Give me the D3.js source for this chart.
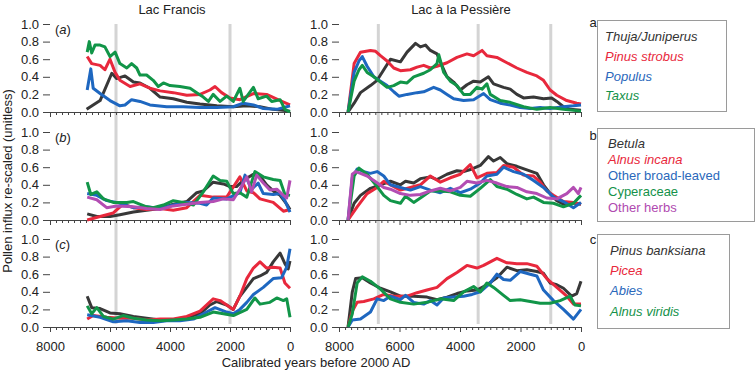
<!DOCTYPE html>
<html>
<head>
<meta charset="utf-8">
<script src="https://cdn.jsdelivr.net/npm/d3@7"></script>
<style>
body { margin: 0; background: #fff; }
svg text { font-family: "Liberation Sans", Arial, sans-serif; fill: #222; }
</style>
</head>
<body>
<svg id="chart" width="755" height="373"></svg>
<script>
// Values: [calibrated years BP (2000 AD), re-scaled influx]

// Lac Francis (a)
const francisThuja = [[6780,0.03],[6330,0.13],[5940,0.44],[5780,0.38],[5500,0.41],[5220,0.34],[5000,0.33],[4670,0.27],[4330,0.17],[3890,0.15],[3440,0.11],[3000,0.09],[2440,0.07],[1890,0.06],[1440,0.07],[1000,0.06],[560,0.03],[0,0.01]]
const francisPinusStrobus = [[6760,0.63],[6610,0.55],[6330,0.53],[6170,0.48],[6000,0.60],[5830,0.45],[5670,0.36],[5330,0.29],[5000,0.32],[4670,0.27],[4330,0.24],[3890,0.22],[3440,0.19],[3000,0.20],[2670,0.25],[2500,0.29],[2280,0.22],[2000,0.16],[1670,0.14],[1220,0.21],[780,0.20],[330,0.13],[0,0.08]]
const francisPopulus = [[6760,0.25],[6640,0.49],[6560,0.27],[6330,0.21],[6000,0.13],[5670,0.07],[5500,0.08],[5280,0.14],[5000,0.12],[4670,0.08],[4110,0.06],[3560,0.06],[3000,0.05],[2440,0.05],[1890,0.06],[1560,0.10],[1220,0.08],[890,0.04],[440,0.03],[110,0.06],[0,0.07]]
const francisTaxus = [[6760,0.68],[6690,0.80],[6610,0.67],[6500,0.76],[6330,0.76],[6170,0.74],[6000,0.63],[5830,0.68],[5670,0.55],[5440,0.50],[5280,0.55],[5110,0.50],[5000,0.42],[4780,0.42],[4560,0.36],[4390,0.29],[4220,0.33],[4000,0.30],[3670,0.29],[3330,0.27],[3110,0.22],[2890,0.17],[2720,0.12],[2560,0.20],[2330,0.12],[2110,0.18],[1890,0.12],[1670,0.27],[1560,0.12],[1220,0.28],[1060,0.15],[780,0.18],[610,0.12],[330,0.14],[170,0.03],[0,0.0]]

// Lac Francis (b)
const francisBetula = [[6760,0.07],[6440,0.04],[6000,0.04],[5670,0.06],[5220,0.09],[4780,0.11],[4330,0.13],[3890,0.18],[3440,0.21],[3110,0.31],[2890,0.33],[2560,0.43],[2220,0.41],[2000,0.38],[1780,0.38],[1560,0.45],[1220,0.52],[1000,0.50],[780,0.40],[560,0.33],[330,0.28],[110,0.18],[0,0.12]]
const francisAlnusIncana = [[6760,0.0],[6330,0.04],[5890,0.08],[5560,0.18],[5220,0.14],[4780,0.12],[4330,0.13],[3890,0.11],[3440,0.14],[3000,0.28],[2560,0.26],[2110,0.26],[1670,0.49],[1440,0.33],[1220,0.31],[1000,0.24],[560,0.20],[220,0.10],[0,0.12]]
const francisBroadLeaved = [[6760,0.30],[6440,0.28],[6110,0.22],[5780,0.20],[5220,0.14],[4780,0.15],[4330,0.13],[3890,0.17],[3440,0.20],[3000,0.19],[2780,0.17],[2560,0.25],[2110,0.24],[1670,0.31],[1500,0.51],[1280,0.35],[1060,0.42],[890,0.30],[560,0.29],[330,0.30],[170,0.22],[0,0.09]]
const francisCyperaceae = [[6760,0.43],[6640,0.29],[6440,0.32],[6220,0.24],[5890,0.20],[5440,0.20],[5220,0.21],[4780,0.15],[4560,0.14],[4220,0.17],[3890,0.22],[3560,0.20],[3220,0.17],[2890,0.32],[2560,0.50],[2330,0.45],[2110,0.44],[1890,0.30],[1670,0.31],[1440,0.26],[1170,0.55],[890,0.49],[560,0.46],[330,0.45],[170,0.29],[0,0.28]]
const francisHerbs = [[6760,0.26],[6440,0.23],[6110,0.14],[5780,0.16],[5220,0.15],[4780,0.13],[4330,0.12],[3890,0.16],[3440,0.18],[3000,0.20],[2560,0.21],[2220,0.24],[1890,0.23],[1670,0.35],[1440,0.49],[1280,0.32],[1110,0.51],[890,0.42],[670,0.34],[440,0.35],[220,0.28],[110,0.25],[0,0.45]]

// Lac Francis (c)
const francisBanksiana = [[6760,0.35],[6610,0.22],[6330,0.21],[6000,0.16],[5670,0.15],[5220,0.12],[4780,0.10],[4330,0.08],[3890,0.08],[3440,0.11],[3000,0.15],[2670,0.25],[2440,0.29],[2110,0.25],[1890,0.20],[1670,0.35],[1440,0.45],[1220,0.55],[1000,0.58],[780,0.62],[560,0.74],[330,0.84],[170,0.72],[60,0.66],[0,0.75]]
const francisPicea = [[6760,0.09],[6560,0.13],[6110,0.11],[5670,0.10],[5220,0.10],[4780,0.08],[4330,0.09],[3890,0.09],[3440,0.12],[3000,0.18],[2560,0.32],[2330,0.30],[1890,0.20],[1670,0.35],[1440,0.55],[1220,0.67],[1000,0.74],[780,0.67],[560,0.68],[330,0.67],[170,0.50],[0,0.44]]
const francisAbies = [[6760,0.14],[6330,0.11],[5890,0.06],[5440,0.07],[5000,0.05],[4560,0.05],[4110,0.07],[3670,0.07],[3220,0.09],[2780,0.17],[2500,0.22],[2110,0.17],[1890,0.15],[1670,0.20],[1440,0.28],[1220,0.37],[890,0.45],[560,0.55],[280,0.56],[110,0.68],[0,0.89]]
const francisAlnusViridis = [[6760,0.24],[6610,0.15],[6440,0.22],[6220,0.12],[5890,0.09],[5560,0.13],[5220,0.10],[4780,0.08],[4330,0.07],[3890,0.08],[3440,0.09],[3000,0.11],[2560,0.17],[2220,0.15],[1890,0.13],[1440,0.20],[1170,0.33],[1000,0.26],[670,0.28],[440,0.33],[220,0.30],[110,0.32],[0,0.11]]

// Lac a la Pessiere (a)
const pessiereThuja = [[7700,0],[7500,0.10],[7290,0.22],[6960,0.30],[6740,0.36],[6520,0.48],[6300,0.60],[5970,0.57],[5750,0.68],[5470,0.78],[5310,0.74],[5140,0.76],[4980,0.70],[4760,0.66],[4590,0.52],[4430,0.40],[4210,0.34],[3990,0.25],[3770,0.31],[3550,0.35],[3330,0.34],[3060,0.40],[2890,0.32],[2560,0.28],[2340,0.26],[2120,0.20],[1900,0.16],[1570,0.17],[1240,0.15],[970,0.16],[800,0.12],[580,0.06],[360,0.03],[0,0.02]]
const pessierePinusStrobus = [[7700,0],[7500,0.55],[7290,0.68],[6960,0.70],[6790,0.69],[6630,0.64],[6410,0.58],[6190,0.50],[5970,0.47],[5640,0.48],[5420,0.51],[5200,0.53],[4980,0.50],[4760,0.52],[4430,0.56],[4100,0.62],[3770,0.66],[3550,0.64],[3270,0.70],[3110,0.64],[2780,0.62],[2450,0.56],[2120,0.50],[1790,0.45],[1460,0.41],[1240,0.36],[1020,0.25],[800,0.19],[470,0.13],[140,0.10],[0,0.09]]
const pessierePopulus = [[7700,0],[7500,0.45],[7340,0.58],[7230,0.63],[7070,0.52],[6850,0.40],[6630,0.35],[6410,0.30],[6190,0.23],[6020,0.18],[5750,0.20],[5420,0.22],[5200,0.23],[4870,0.28],[4650,0.25],[4430,0.20],[4210,0.15],[3880,0.13],[3550,0.14],[3220,0.21],[3000,0.14],[2670,0.10],[2340,0.08],[2010,0.05],[1680,0.04],[1350,0.05],[1020,0.04],[580,0.06],[250,0.07],[0,0.08]]
const pessiereTaxus = [[7700,0],[7500,0.35],[7340,0.48],[7230,0.53],[7070,0.45],[6850,0.40],[6630,0.34],[6410,0.28],[6190,0.30],[5970,0.34],[5750,0.33],[5530,0.40],[5200,0.44],[4980,0.48],[4760,0.55],[4700,0.65],[4540,0.45],[4320,0.35],[4100,0.30],[3880,0.20],[3660,0.20],[3440,0.28],[3270,0.26],[3110,0.32],[3000,0.20],[2670,0.13],[2340,0.11],[1900,0.06],[1460,0.03],[1020,0.05],[580,0.03],[0,0.01]]

// Lac a la Pessiere (b)
const pessiereBetula = [[7700,0],[7500,0.19],[7290,0.28],[6960,0.36],[6630,0.40],[6300,0.44],[5970,0.40],[5800,0.44],[5530,0.42],[5310,0.47],[4980,0.49],[4760,0.46],[4430,0.52],[4100,0.56],[3880,0.55],[3600,0.58],[3330,0.62],[3060,0.72],[2890,0.67],[2670,0.71],[2450,0.64],[2120,0.61],[1790,0.57],[1460,0.53],[1240,0.40],[1020,0.30],[800,0.22],[580,0.18],[360,0.20],[0,0.18]]
const pessiereAlnusIncana = [[7700,0],[7400,0.15],[7070,0.30],[6740,0.37],[6520,0.44],[6300,0.40],[5970,0.34],[5640,0.37],[5310,0.40],[4980,0.50],[4650,0.43],[4320,0.48],[3990,0.52],[3660,0.63],[3440,0.48],[3110,0.53],[2780,0.54],[2560,0.62],[2230,0.60],[1900,0.51],[1570,0.50],[1350,0.43],[1130,0.33],[910,0.28],[580,0.21],[250,0.20],[0,0.18]]
const pessiereBroadLeaved = [[7700,0],[7560,0.48],[7400,0.58],[7180,0.55],[6960,0.53],[6740,0.55],[6520,0.50],[6300,0.40],[5970,0.37],[5640,0.34],[5310,0.38],[4980,0.34],[4650,0.31],[4320,0.36],[3990,0.31],[3660,0.35],[3330,0.42],[3110,0.50],[2780,0.52],[2560,0.60],[2230,0.55],[1900,0.52],[1570,0.45],[1240,0.37],[910,0.26],[580,0.21],[250,0.14],[0,0.20]]
const pessiereCyperaceae = [[7700,0],[7500,0.50],[7340,0.59],[7070,0.52],[6740,0.38],[6520,0.28],[6300,0.22],[5970,0.19],[5800,0.27],[5530,0.20],[5310,0.25],[4980,0.33],[4650,0.33],[4320,0.32],[3990,0.28],[3660,0.27],[3330,0.36],[3000,0.46],[2780,0.38],[2450,0.35],[2120,0.29],[1790,0.24],[1570,0.26],[1240,0.20],[910,0.19],[580,0.15],[250,0.19],[0,0.28]]
const pessiereHerbs = [[7700,0],[7560,0.52],[7450,0.55],[7290,0.53],[7070,0.50],[6850,0.45],[6520,0.37],[6300,0.35],[5970,0.30],[5640,0.28],[5310,0.29],[4980,0.33],[4650,0.36],[4320,0.33],[3990,0.37],[3770,0.44],[3440,0.42],[3110,0.45],[2780,0.42],[2450,0.38],[2120,0.37],[1790,0.32],[1460,0.30],[1130,0.25],[800,0.24],[470,0.30],[250,0.37],[90,0.30],[0,0.37]]

// Lac a la Pessiere (c)
const pessiereBanksiana = [[7700,0],[7560,0.40],[7450,0.55],[7230,0.56],[6960,0.50],[6630,0.44],[6300,0.40],[5970,0.35],[5530,0.35],[5090,0.34],[4760,0.31],[4430,0.34],[4100,0.38],[3770,0.41],[3440,0.42],[3110,0.48],[2780,0.56],[2450,0.68],[2120,0.64],[1790,0.65],[1460,0.63],[1240,0.61],[1020,0.50],[800,0.48],[580,0.44],[310,0.35],[140,0.38],[0,0.52]]
const pessierePicea = [[7700,0],[7560,0.18],[7400,0.28],[7180,0.29],[6850,0.32],[6520,0.37],[6190,0.35],[5750,0.35],[5420,0.39],[5090,0.42],[4760,0.45],[4430,0.55],[4100,0.62],[3770,0.70],[3440,0.67],[3220,0.70],[3000,0.74],[2780,0.78],[2450,0.73],[2120,0.72],[1790,0.72],[1460,0.69],[1130,0.55],[800,0.45],[470,0.35],[250,0.26],[0,0.26]]
const pessiereAbies = [[7700,0],[7560,0.08],[7290,0.09],[6960,0.17],[6740,0.32],[6520,0.30],[6300,0.35],[5970,0.31],[5800,0.36],[5530,0.28],[5200,0.26],[4980,0.30],[4760,0.25],[4540,0.33],[4210,0.34],[3880,0.35],[3600,0.37],[3330,0.40],[3000,0.50],[2780,0.60],[2560,0.54],[2340,0.53],[2010,0.63],[1680,0.60],[1460,0.58],[1240,0.42],[910,0.30],[580,0.20],[250,0.09],[0,0.20]]
const pessiereAlnusViridis = [[7700,0],[7560,0.15],[7400,0.50],[7230,0.57],[6960,0.52],[6630,0.43],[6300,0.32],[5970,0.28],[5530,0.26],[5090,0.28],[4650,0.32],[4210,0.30],[3880,0.40],[3550,0.46],[3330,0.40],[3110,0.50],[2890,0.45],[2560,0.36],[2340,0.30],[2010,0.31],[1680,0.29],[1350,0.27],[1020,0.27],[690,0.30],[360,0.35],[200,0.25],[0,0.24]]

// grey event bars (years)
const francisBars = [5800, 2000]
const pessiereBars = [6700, 3400, 1000]

const siteNames = ["Lac Francis", "Lac à la Pessière"]
const panelLetters = ["a", "b", "c"]
const yTicks = [0, 0.2, 0.4, 0.6, 0.8, 1.0]

const legendA = ["Thuja/Juniperus", "Pinus strobus", "Populus", "Taxus"]
const legendB = ["Betula", "Alnus incana", "Other broad-leaved", "Cyperaceae", "Other herbs"]
const legendC = ["Pinus banksiana", "Picea", "Abies", "Alnus viridis"]
const legendItalic = [[true, true, true, true], [true, true, false, false, false], [true, true, true, true]]

const colors = ["#383838", "#e8283c", "#1e67c0", "#119548", "#b34db3"]
const textColors = ["#333", "#e8283c", "#2a68bb", "#14924a", "#b04ab0"]

// layout
const rowTops = [24, 132, 239]
const rowHeight = 88

const svg = d3.select("#chart")

const xScales = [
    d3.scaleLinear().domain([8000, 0]).range([50, 290]),
    d3.scaleLinear().domain([8000, 0]).range([339, 581])
]
const yScales = rowTops.map(t => d3.scaleLinear().domain([0, 1]).range([t + rowHeight, t]))

const rows = [
    [[francisThuja, francisPinusStrobus, francisPopulus, francisTaxus],
     [pessiereThuja, pessierePinusStrobus, pessierePopulus, pessiereTaxus]],
    [[francisBetula, francisAlnusIncana, francisBroadLeaved, francisCyperaceae, francisHerbs],
     [pessiereBetula, pessiereAlnusIncana, pessiereBroadLeaved, pessiereCyperaceae, pessiereHerbs]],
    [[francisBanksiana, francisPicea, francisAbies, francisAlnusViridis],
     [pessiereBanksiana, pessierePicea, pessiereAbies, pessiereAlnusViridis]]
]

// grey vertical bars behind everything
const barSets = [francisBars, pessiereBars]
barSets.forEach((bars, c) => {
    svg.append("g").selectAll("line")
        .data(bars)
        .join("line")
        .attr("x1", d => xScales[c](d))
        .attr("x2", d => xScales[c](d))
        .attr("y1", rowTops[0])
        .attr("y2", rowTops[2] + rowHeight - 3)
        .attr("stroke", "#d4d4d4")
        .attr("stroke-width", 3)
})

// titles
const titleShift = [2, 1]
siteNames.forEach((name, c) => {
    const r = xScales[c].range()
    svg.append("text")
        .attr("x", (r[0] + r[1]) / 2 + titleShift[c])
        .attr("y", 14)
        .attr("text-anchor", "middle")
        .style("font-size", "13px")
        .text(name)
})

// axes and lines for each panel
rows.forEach((row, r) => {
    const y = yScales[r]
    row.forEach((seriesList, c) => {
        const x = xScales[c]

        // y axis, only ticks
        const yAxis = svg.append("g")
            .attr("transform", `translate(${x.range()[0]},0)`)
            .call(d3.axisLeft(y).tickValues(yTicks).tickSize(7).tickPadding(4).tickFormat(d3.format(".1f")))
        yAxis.select(".domain").remove()
        yAxis.selectAll("line").attr("stroke", "#444")
        yAxis.selectAll("text").style("font-size", "13px").attr("fill", "#222").style("font-family", "'Liberation Sans', Arial, sans-serif")

        // x axis with minor ticks every 200 years
        const xAxis = svg.append("g")
            .attr("transform", `translate(0,${y(0)})`)
            .call(d3.axisBottom(x).tickValues(d3.range(0, 8001, 200)).tickSizeInner(3).tickSizeOuter(0)
                .tickFormat(d => (r === 2 && d % 2000 === 0) ? d : ""))
        xAxis.select(".domain").attr("stroke", "#444")
        xAxis.selectAll(".tick line").attr("stroke", "#444")
            .attr("y2", d => d % 2000 === 0 ? 5 : 3)
        xAxis.selectAll("text").attr("y", 15).style("font-size", "13px").attr("fill", "#222").style("font-family", "'Liberation Sans', Arial, sans-serif")

        // series lines
        const line = d3.line()
            .x(d => x(d[0]))
            .y(d => y(d[1]))

        svg.append("g").selectAll("path")
            .data(seriesList)
            .join("path")
            .attr("fill", "none")
            .attr("stroke", (d, i) => colors[i])
            .attr("stroke-width", 3)
            .attr("stroke-linejoin", "round")
            .attr("d", line)
    })

    // panel letter (a), (b), (c) on the left column
    const lbl = svg.append("text")
        .attr("x", 55)
        .attr("y", rowTops[r] + 10)
        .style("font-size", "13px")
    lbl.append("tspan").text("(")
    lbl.append("tspan").style("font-style", "italic").text(panelLetters[r])
    lbl.append("tspan").text(")")
})

// axis titles
svg.append("text")
    .attr("x", 316)
    .attr("y", 367)
    .attr("text-anchor", "middle")
    .style("font-size", "13px")
    .text("Calibrated years before 2000 AD")

svg.append("text")
    .attr("transform", "translate(12,181) rotate(-90)")
    .attr("text-anchor", "middle")
    .style("font-size", "13px")
    .text("Pollen influx re-scaled (unitless)")

// legends
const legends = [
    { names: legendA, box: [597, 20, 726, 111], tx: 605, ty: [41, 61, 81, 100], letterY: 27 },
    { names: legendB, box: [597, 128, 754, 221], tx: 608, ty: [148, 164, 180, 196, 212], letterY: 140 },
    { names: legendC, box: [597, 234, 729, 328], tx: 610, ty: [255, 275, 295, 316], letterY: 244 }
]

legends.forEach((lg, k) => {
    const g = svg.append("g")
    g.append("rect")
        .attr("x", lg.box[0] + 0.5)
        .attr("y", lg.box[1] + 0.5)
        .attr("width", lg.box[2] - lg.box[0])
        .attr("height", lg.box[3] - lg.box[1])
        .attr("fill", "none")
        .attr("stroke", "#9a9a9a")
        .attr("stroke-width", 1)
    g.append("text")
        .attr("class", "letter")
        .attr("x", 593)
        .attr("y", lg.letterY)
        .attr("text-anchor", "middle")
        .style("font-size", "13px")
        .style("fill", "#222")
        .text(panelLetters[k])
    g.selectAll(".item")
        .data(lg.names)
        .join("text")
        .attr("class", "item")
        .attr("x", lg.tx)
        .attr("y", (d, i) => lg.ty[i])
        .style("font-size", "13px")
        .style("font-style", (d, i) => legendItalic[k][i] ? "italic" : "normal")
        .style("fill", (d, i) => textColors[i])
        .text(d => d)
})
</script>
</body>
</html>
